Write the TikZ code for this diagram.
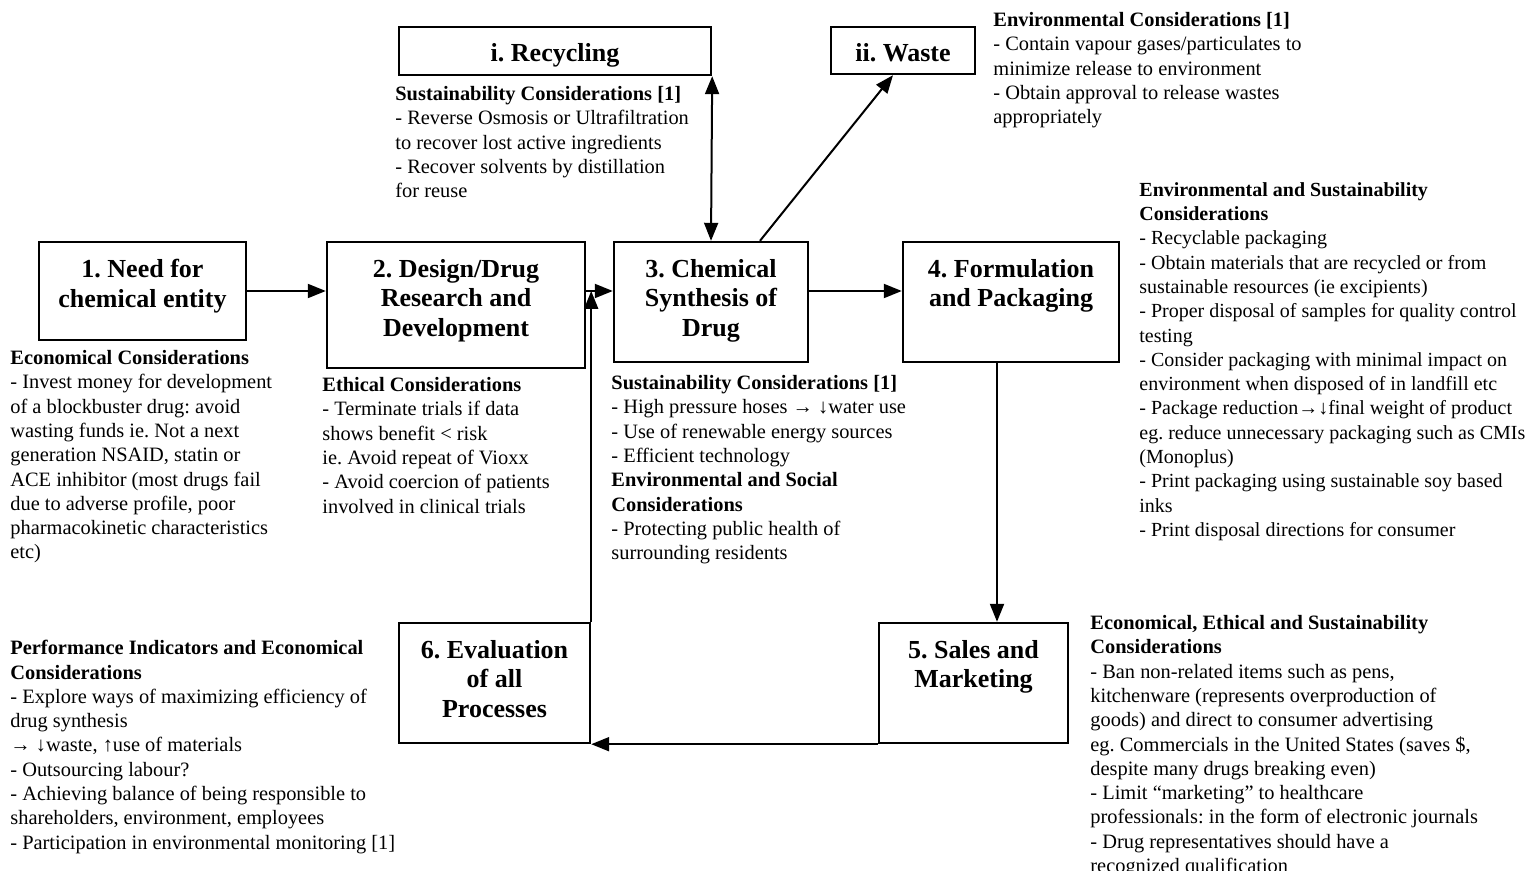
\documentclass[tikz,border=0pt]{standalone}
\usepackage{fontspec}
\setmainfont{Liberation Serif}
\usetikzlibrary{arrows.meta,positioning}
\frenchspacing

\begin{document}
\begin{tikzpicture}[x = 0.5pt, y = -0.5pt,
    stage/.style = {draw, line width = 1.2pt, inner sep = 0pt},
    title/.style = {inner sep = 0pt, anchor = north, align = center, font = \fontsize{13pt}{14.75pt}\selectfont\bfseries},
    notes/.style = {inner sep = 0pt, anchor = north west, align = left, font = \fontsize{10.2pt}{12.15pt}\selectfont},
    flow/.style = {line width = 1pt, -{Triangle[length = 9pt, width = 7pt]}}]
    \useasboundingbox (0,0) rectangle (1531,871);

    \node[stage, minimum width = 156pt, minimum height = 24pt] (rec) at (555,51) {};
    \node[stage, minimum width = 72pt, minimum height = 23.5pt] (waste) at (903,50.5) {};
    \node[stage, minimum width = 103.5pt, minimum height = 49pt] (n1) at (142.5,291) {};
    \node[stage, minimum width = 129pt, minimum height = 63pt] (n2) at (456,305) {};
    \node[stage, minimum width = 97pt, minimum height = 60pt] (n3) at (711,302) {};
    \node[stage, minimum width = 108pt, minimum height = 60pt] (n4) at (1011,302) {};
    \node[stage, minimum width = 94.5pt, minimum height = 60pt] (n5) at (973.5,683) {};
    \node[stage, minimum width = 95.5pt, minimum height = 60pt] (n6) at (494.5,683) {};

    \node[title, below = 8.5pt of rec.north] (rect) {i. Recycling};
    \node[title, below = 8.5pt of waste.north] (wastet) {ii. Waste};
    \node[title, below = 9pt of n1.north] (n1t) {1. Need for\\chemical entity};
    \node[title, below = 9pt of n2.north] (n2t) {2. Design/Drug\\Research and\\Development};
    \node[title, below = 9pt of n3.north] (n3t) {3. Chemical\\Synthesis of\\Drug};
    \node[title, below = 9pt of n4.north] (n4t) {4. Formulation\\and Packaging};
    \node[title, below = 9pt of n5.north] (n5t) {5. Sales and\\Marketing};
    \node[title, below = 9pt of n6.north] (n6t) {6. Evaluation\\of all\\Processes};

    \draw[flow] (n1.east) -- (n2.west |- n1.east);
    \draw[flow] (n2.east |- n1.east) -- (n3.west |- n1.east);
    \draw[flow] (n3.east |- n1.east) -- (n4.west |- n1.east);
    \draw[flow] ([xshift = -7pt]n4.south) -- ([xshift = -7pt]n4.south |- n5.north);
    \draw[flow] (n5.south west) -- (n6.south east);
    \draw[flow] (n6.north east) -- (n6.north east |- n1.east);
    \draw[line width = 1pt, {Triangle[length = 9pt, width = 7pt]}-{Triangle[length = 9pt, width = 7pt]}] (n3.north) -- (rec.south east);
    \draw[flow] ([xshift = 24.5pt]n3.north) -- ([xshift = -5pt]waste.south);

    \node[notes] (recn) at (395,86) {\textbf{Sustainability Considerations [1]}\\
        - Reverse Osmosis or Ultrafiltration\\
        to recover lost active ingredients\\
        - Recover solvents by distillation\\
        for reuse};
    \node[notes] (wasten) at (993,12) {\textbf{Environmental Considerations [1]}\\
        - Contain vapour gases/particulates to\\
        minimize release to environment\\
        - Obtain approval to release wastes\\
        appropriately};
    \node[notes] (n1n) at (10,350) {\textbf{Economical Considerations}\\
        - Invest money for development\\
        of a blockbuster drug: avoid\\
        wasting funds ie. Not a next\\
        generation NSAID, statin or\\
        ACE inhibitor (most drugs fail\\
        due to adverse profile, poor\\
        pharmacokinetic characteristics\\
        etc)};
    \node[notes] (n2n) at (322,377) {\textbf{Ethical Considerations}\\
        - Terminate trials if data\\
        shows benefit < risk\\
        ie. Avoid repeat of Vioxx\\
        - Avoid coercion of patients\\
        involved in clinical trials};
    \node[notes] (n3n) at (611,375) {\textbf{Sustainability Considerations [1]}\\
        - High pressure hoses → ↓water use\\
        - Use of renewable energy sources\\
        - Efficient technology\\
        \textbf{Environmental and Social}\\
        \textbf{Considerations}\\
        - Protecting public health of\\
        surrounding residents};
    \node[notes, font = \fontsize{10pt}{12.15pt}\selectfont] (n4n) at (1139,182) {\textbf{Environmental and Sustainability}\\
        \textbf{Considerations}\\
        - Recyclable packaging\\
        - Obtain materials that are recycled or from\\
        sustainable resources (ie excipients)\\
        - Proper disposal of samples for quality control\\
        testing\\
        - Consider packaging with minimal impact on\\
        environment when disposed of in landfill etc\\
        - Package reduction→↓final weight of product\\
        eg. reduce unnecessary packaging such as CMIs\\
        (Monoplus)\\
        - Print packaging using sustainable soy based\\
        inks\\
        - Print disposal directions for consumer};
    \node[notes] (n5n) at (1090,615) {\textbf{Economical, Ethical and Sustainability}\\
        \textbf{Considerations}\\
        - Ban non-related items such as pens,\\
        kitchenware (represents overproduction of\\
        goods) and direct to consumer advertising\\
        eg. Commercials in the United States (saves \$,\\
        despite many drugs breaking even)\\
        - Limit “marketing” to healthcare\\
        professionals: in the form of electronic journals\\
        - Drug representatives should have a\\
        recognized qualification};
    \node[notes] (n6n) at (10,640) {\textbf{Performance Indicators and Economical}\\
        \textbf{Considerations}\\
        - Explore ways of maximizing efficiency of\\
        drug synthesis\\
        → ↓waste, ↑use of materials\\
        - Outsourcing labour?\\
        - Achieving balance of being responsible to\\
        shareholders, environment, employees\\
        - Participation in environmental monitoring [1]};
\end{tikzpicture}
\end{document}
